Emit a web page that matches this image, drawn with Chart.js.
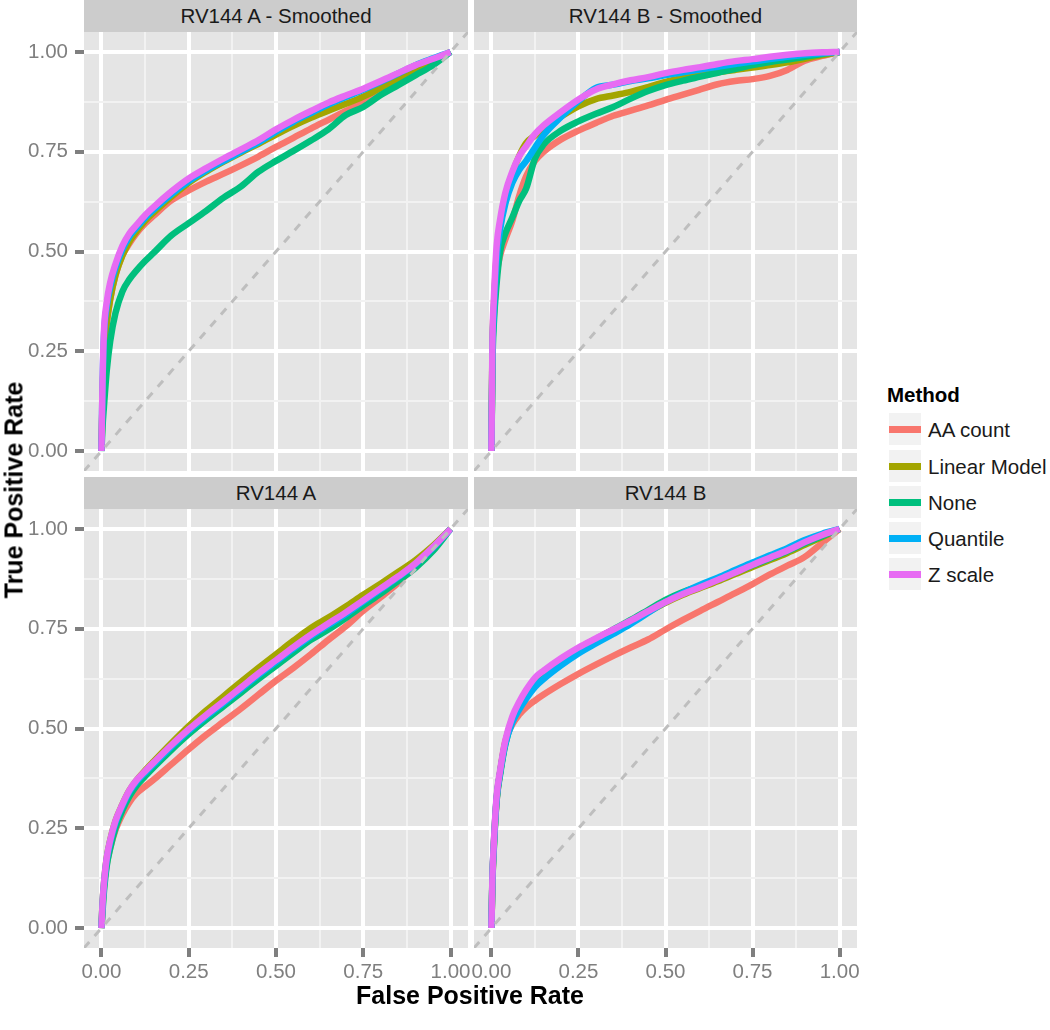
<!DOCTYPE html>
<html><head><meta charset="utf-8">
<script src="https://cdn.jsdelivr.net/npm/chart.js@4.4.0/dist/chart.umd.min.js"></script>
<style>
html,body{margin:0;padding:0;background:#fff;}
body{width:1050px;height:1030px;position:relative;overflow:hidden;font-family:'Liberation Sans',Arial,sans-serif;}
canvas{position:absolute;}
.strip{position:absolute;background:#CCCCCC;color:#1A1A1A;font-size:20.5px;text-align:center;height:32px;line-height:32px;white-space:nowrap;}
.title{position:absolute;font-weight:bold;font-size:25px;color:#000;white-space:nowrap;transform:translate(-50%,-50%);}
.ltitle{position:absolute;left:887px;top:383px;font-weight:bold;font-size:20.5px;color:#000;}
.key{position:absolute;left:889px;width:32px;height:32px;background:#F2F2F2;}
.key div{position:absolute;left:0;width:32px;height:7px;top:12.5px;}
.lab{position:absolute;left:928px;font-size:20.5px;color:#1A1A1A;height:32px;line-height:32px;white-space:nowrap;}
</style></head><body>

<div class="strip" style="left:84px;top:0;width:384px;">RV144 A - Smoothed</div>
<div class="strip" style="left:474px;top:0;width:383px;">RV144 B - Smoothed</div>
<div class="strip" style="left:84px;top:477px;width:384px;">RV144 A</div>
<div class="strip" style="left:474px;top:477px;width:383px;">RV144 B</div>

<canvas id="c1" width="468" height="439" style="left:0;top:32px;width:468px;height:439px;"></canvas>
<canvas id="c2" width="383" height="439" style="left:474px;top:32px;width:383px;height:439px;"></canvas>
<canvas id="c3" width="474" height="476" style="left:0;top:509px;width:474px;height:476px;"></canvas>
<canvas id="c4" width="410" height="476" style="left:464px;top:509px;width:410px;height:476px;"></canvas>

<div class="title" style="left:14px;top:490px;transform:translate(-50%,-50%) rotate(-90deg);">True Positive Rate</div>
<div class="title" style="left:470px;top:995px;">False Positive Rate</div>

<div class="ltitle">Method</div>
<div id="legend"></div>

<script>
// ---- data ----
const METHODS = ['AA count', 'Linear Model', 'None', 'Quantile', 'Z scale'];
const COLORS = ['#F8766D', '#A3A500', '#00BF7D', '#00B0F6', '#E76BF3'];
const PANELS = ['RV144 A - Smoothed', 'RV144 B - Smoothed', 'RV144 A', 'RV144 B'];
const MAJOR_TICKS = [0, 0.25, 0.5, 0.75, 1];
const MINOR_TICKS = [0.125, 0.375, 0.625, 0.875];
const DIAG = [-0.05, 1.05];
const FPR = [0, 0.003, 0.007, 0.015, 0.025, 0.04, 0.06, 0.08, 0.1, 0.125, 0.15, 0.2, 0.25, 0.3, 0.35, 0.4, 0.45, 0.5, 0.55, 0.6, 0.65, 0.7, 0.75, 0.8, 0.85, 0.9, 0.95, 1];

// RV144 A - Smoothed
const AS_AA    = [0, .12, .24, .32, .38, .44, .49, .52, .545, .57, .59, .628, .653, .675, .695, .716, .738, .762, .785, .808, .83, .852, .874, .898, .922, .95, .975, 1];
const AS_LM    = [0, .12, .24, .32, .38, .44, .49, .525, .55, .577, .598, .637, .672, .70, .725, .748, .77, .793, .815, .835, .853, .87, .888, .91, .932, .955, .978, 1];
const AS_NONE  = [0, .06, .11, .20, .275, .345, .40, .43, .452, .476, .497, .54, .571, .602, .635, .663, .70, .727, .752, .778, .806, .842, .862, .892, .917, .942, .967, 1];
const AS_QUANT = [0, .16, .285, .36, .41, .458, .505, .537, .559, .584, .605, .643, .676, .703, .727, .75, .773, .80, .825, .847, .868, .887, .905, .925, .946, .967, .984, 1];
const AS_Z     = [0, .17, .297, .372, .422, .468, .514, .545, .566, .591, .612, .65, .683, .709, .733, .756, .779, .806, .83, .852, .873, .891, .908, .927, .947, .967, .983, 1];

// RV144 B - Smoothed
const BS_AA    = [0, .25, .34, .44, .49, .53, .577, .64, .689, .727, .75, .781, .803, .822, .84, .853, .866, .88, .893, .906, .919, .927, .932, .94, .955, .978, .99, 1];
const BS_LM    = [0, .26, .36, .49, .565, .63, .695, .74, .772, .79, .806, .838, .864, .882, .891, .90, .912, .925, .935, .943, .949, .955, .961, .967, .974, .983, .992, 1];
const BS_NONE  = [0, .22, .32, .42, .50, .545, .585, .627, .658, .733, .768, .803, .826, .845, .862, .883, .902, .917, .928, .938, .948, .957, .967, .975, .981, .988, .995, 1];
const BS_QUANT = [0, .25, .35, .48, .555, .62, .672, .705, .727, .76, .792, .837, .877, .91, .918, .927, .934, .942, .949, .956, .963, .97, .976, .982, .988, .993, .997, 1];
const BS_Z     = [0, .28, .38, .514, .58, .647, .70, .739, .764, .794, .816, .85, .881, .906, .919, .929, .937, .947, .955, .962, .97, .977, .982, .988, .993, .997, .999, 1];

// RV144 A
const A_AA    = [0, .05, .10, .16, .20, .245, .285, .315, .337, .355, .372, .41, .448, .484, .517, .55, .585, .62, .652, .686, .722, .756, .795, .829, .865, .91, .955, 1];
const A_LM    = [0, .06, .11, .175, .22, .268, .31, .345, .37, .395, .418, .463, .506, .545, .581, .617, .652, .686, .72, .752, .778, .806, .835, .863, .892, .922, .958, 1];
const A_NONE  = [0, .04, .09, .155, .20, .25, .295, .33, .356, .38, .403, .446, .486, .522, .556, .59, .624, .657, .69, .722, .748, .777, .808, .838, .87, .903, .945, 1];
const A_QUANT = [0, .058, .107, .171, .216, .264, .306, .341, .366, .389, .411, .454, .494, .53, .564, .599, .634, .667, .70, .731, .759, .787, .818, .848, .879, .912, .953, 1];
const A_Z     = [0, .06, .11, .175, .22, .268, .31, .345, .37, .393, .415, .458, .498, .534, .568, .603, .638, .671, .704, .735, .763, .791, .821, .851, .881, .914, .955, 1];

// RV144 B
const B_AA    = [0, .12, .213, .32, .39, .468, .51, .535, .553, .57, .585, .612, .637, .66, .682, .703, .723, .748, .772, .795, .817, .839, .862, .886, .908, .93, .965, 1];
const B_LM    = [0, .125, .205, .325, .39, .465, .525, .56, .59, .62, .64, .673, .70, .724, .747, .769, .792, .815, .835, .852, .869, .887, .905, .922, .94, .96, .98, 1];
const B_NONE  = [0, .12, .20, .32, .385, .46, .52, .555, .585, .617, .638, .672, .70, .724, .748, .772, .797, .822, .842, .857, .873, .891, .909, .926, .944, .964, .982, 1];
const B_QUANT = [0, .13, .21, .325, .39, .462, .515, .548, .575, .604, .624, .658, .688, .713, .737, .762, .79, .817, .84, .86, .878, .897, .916, .934, .952, .972, .988, 1];
const B_Z     = [0, .13, .213, .33, .395, .47, .53, .567, .597, .627, .645, .676, .703, .726, .748, .77, .794, .817, .837, .854, .872, .891, .91, .928, .946, .967, .985, 1];

// ---- rendering ----
Chart.defaults.font.family = "'Liberation Sans', Arial, sans-serif";
const ALL_TICKS = MAJOR_TICKS.concat(MINOR_TICKS).sort((a, b) => a - b);
const isMajor = v => MAJOR_TICKS.some(m => Math.abs(m - v) < 1e-9);

const bgPlugin = {
  id: 'panelbg',
  beforeDraw(chart) {
    const { ctx, chartArea: a } = chart;
    ctx.save();
    ctx.fillStyle = '#E5E5E5';
    ctx.fillRect(a.left, a.top, a.right - a.left, a.bottom - a.top);
    ctx.restore();
  }
};

function axis(isX, show, size, pad) {
  return {
    type: 'linear', min: DIAG[0], max: DIAG[1],
    afterBuildTicks: s => { s.ticks = ALL_TICKS.map(v => ({ value: v })); },
    afterFit: s => {
      if (isX) { s.height = size; s.paddingLeft = 0; s.paddingRight = 0; }
      else { s.width = size; s.paddingTop = 0; s.paddingBottom = 0; }
    },
    grid: {
      drawOnChartArea: true,
      color: c => (c.tick && isMajor(c.tick.value)) ? '#FFFFFF' : '#F2F2F2',
      lineWidth: c => (c.tick && isMajor(c.tick.value)) ? 4 : 2,
      drawTicks: show,
      tickLength: 9,
      tickColor: c => (c.tick && isMajor(c.tick.value)) ? '#7F7F7F' : 'rgba(0,0,0,0)',
      tickWidth: c => (c.tick && isMajor(c.tick.value)) ? 4 : 0
    },
    border: { display: false },
    ticks: {
      display: show, autoSkip: false, maxRotation: 0, minRotation: 0, padding: pad,
      color: '#7F7F7F', font: { size: 20.5 },
      callback: v => isMajor(v) ? Number(v).toFixed(2) : ''
    }
  };
}

function makePanel(id, series, cfg) {
  const datasets = series.map((tpr, i) => ({
    label: METHODS[i],
    data: FPR.map((f, j) => ({ x: f, y: tpr[j] })),
    borderColor: COLORS[i],
    backgroundColor: COLORS[i],
    borderWidth: 6.5,
    pointRadius: 0,
    fill: false,
    cubicInterpolationMode: 'monotone',
    borderJoinStyle: 'round',
    order: 5 - i
  }));
  datasets.push({
    label: 'diag',
    data: DIAG.map(v => ({ x: v, y: v })),
    borderColor: '#BEBEBE',
    borderWidth: 3,
    borderDash: [8, 8],
    pointRadius: 0,
    fill: false,
    clip: 0,
    order: 0
  });
  new Chart(document.getElementById(id), {
    type: 'line',
    data: { datasets },
    options: {
      responsive: false, animation: false, devicePixelRatio: 1,
      layout: { padding: { left: cfg.padL || 0, right: cfg.padR || 0, top: 0, bottom: 0 } },
      plugins: { legend: { display: false }, tooltip: { enabled: false }, title: { display: false } },
      scales: {
        x: axis(true, cfg.showX, cfg.showX ? 37 : 0, 3),
        y: axis(false, cfg.showY, cfg.showY ? 84 : 0, 7)
      }
    },
    plugins: [bgPlugin]
  });
}

makePanel('c1', [AS_AA, AS_LM, AS_NONE, AS_QUANT, AS_Z], { showX: false, showY: true });
makePanel('c2', [BS_AA, BS_LM, BS_NONE, BS_QUANT, BS_Z], { showX: false, showY: false });
makePanel('c3', [A_AA, A_LM, A_NONE, A_QUANT, A_Z], { showX: true, showY: true, padR: 6 });
makePanel('c4', [B_AA, B_LM, B_NONE, B_QUANT, B_Z], { showX: true, showY: false, padL: 10, padR: 17 });

// legend
const KEY_TOPS = [413, 450, 486, 522, 558];
const leg = document.getElementById('legend');
METHODS.forEach((m, i) => {
  const k = document.createElement('div');
  k.className = 'key';
  k.style.top = KEY_TOPS[i] + 'px';
  const ln = document.createElement('div');
  ln.style.background = COLORS[i];
  k.appendChild(ln);
  leg.appendChild(k);
  const l = document.createElement('div');
  l.className = 'lab';
  l.style.top = (KEY_TOPS[i] + 1) + 'px';
  l.textContent = m;
  leg.appendChild(l);
});
</script>
</body></html>
